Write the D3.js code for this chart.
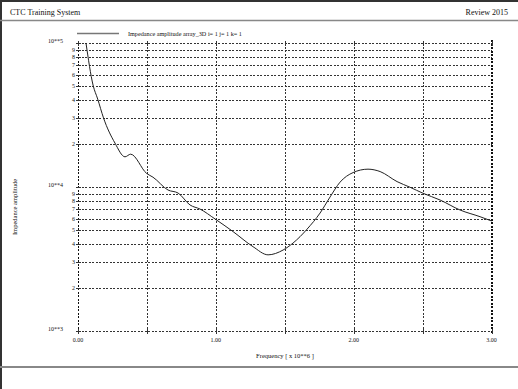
<!DOCTYPE html>
<html>
<head>
<meta charset="utf-8">
<script src="https://cdn.jsdelivr.net/npm/d3@7"></script>
<style>
  html, body { margin: 0; padding: 0; background: #fff; }
  svg { display: block; font-family: "Liberation Serif", "DejaVu Serif", serif; }
</style>
</head>
<body>
<svg id="chart"></svg>
<script>
// ── Data ────────────────────────────────────────────────────────────────────
const freq = [0.058, 0.109, 0.143, 0.185, 0.268, 0.341, 0.382, 0.499, 0.544,
              0.653, 0.726, 0.813, 0.885, 0.994, 1.125, 1.270, 1.379, 1.488, 1.560,
              1.611, 1.662, 1.756, 1.829, 1.901, 1.996, 2.104, 2.192, 2.315, 2.409,
              2.504, 2.627, 2.772, 2.917, 3.000];
const amp  = [100000, 51100, 40800, 30200, 20200, 16200, 16900, 12400, 11700,
              9530, 9080, 7500, 7030, 6000, 4900, 3850, 3380, 3650, 4080,
              4520, 5100, 6590, 8530, 10800, 12600, 13300, 12800, 10900, 9960,
              9040, 8120, 6920, 6220, 5810];

const xTickValues = [0, 1, 2, 3];
const xGridValues = [0.5, 1, 1.5, 2, 2.5];
const decades     = [1e3, 1e4, 1e5];
const decadeLabels = ['10**3', '10**4', '10**5'];
const minorDigits = [2, 3, 4, 5, 6, 7, 8, 9];

const headerLeft  = 'CTC Training System';
const headerRight = 'Review 2015';
const legendLabel = 'Impedance amplitude array_3D i= 1 j= 1 k= 1';
const xTitle = 'Frequency [ x 10**6 ]';
const yTitle = 'Impedance amplitude';

// ── Layout ──────────────────────────────────────────────────────────────────
const W = 518, H = 389;
const svg = d3.select('#chart').attr('width', W).attr('height', H);

const x = d3.scaleLinear().domain([0, 3]).range([78, 491.5]);
const y = d3.scaleLog().domain([1e3, 1e5]).range([331, 43]);

// ── Frame / header ──────────────────────────────────────────────────────────
svg.append('rect').attr('x', 0).attr('y', 0).attr('width', W).attr('height', H).attr('fill', '#fff');
svg.append('line').attr('x1', 0).attr('x2', W).attr('y1', 1).attr('y2', 1)
  .attr('stroke', '#333').attr('stroke-width', 2);
svg.append('line').attr('x1', 1).attr('x2', 1).attr('y1', 0).attr('y2', H)
  .attr('stroke', '#333').attr('stroke-width', 2);
svg.append('line').attr('x1', 0).attr('x2', W).attr('y1', 20.5).attr('y2', 20.5)
  .attr('stroke', '#888').attr('stroke-width', 1.5);
svg.append('line').attr('x1', 0).attr('x2', W).attr('y1', 367).attr('y2', 367)
  .attr('stroke', '#888').attr('stroke-width', 2);

svg.append('text').attr('x', 10).attr('y', 14.5).attr('font-size', 8).attr('fill', '#111')
  .text(headerLeft);
svg.append('text').attr('x', 508).attr('y', 14.5).attr('font-size', 8).attr('fill', '#111')
  .attr('text-anchor', 'end').text(headerRight);

// ── Legend ──────────────────────────────────────────────────────────────────
svg.append('line').attr('x1', 77).attr('x2', 119).attr('y1', 33.5).attr('y2', 33.5)
  .attr('stroke', '#777').attr('stroke-width', 1.5);
svg.append('text').attr('x', 128).attr('y', 35.5).attr('font-size', 6.2).attr('fill', '#111')
  .text(legendLabel);

// ── Grid ────────────────────────────────────────────────────────────────────
const grid = svg.append('g').attr('shape-rendering', 'crispEdges');

const hValues = [];
[1e3, 1e4].forEach(d => minorDigits.forEach(m => hValues.push(d * m)));
decades.forEach(d => hValues.push(d));

grid.selectAll('line.h').data(hValues).join('line')
  .attr('class', 'h')
  .attr('x1', x(0)).attr('x2', x(3))
  .attr('y1', d => Math.round(y(d)) + 0.5).attr('y2', d => Math.round(y(d)) + 0.5)
  .attr('stroke', '#333').attr('stroke-width', 1).attr('stroke-dasharray', '2,1.5');

grid.selectAll('line.v').data(xGridValues).join('line')
  .attr('class', 'v')
  .attr('x1', d => Math.round(x(d)) + 0.5).attr('x2', d => Math.round(x(d)) + 0.5)
  .attr('y1', y(1e5)).attr('y2', y(1e3))
  .attr('stroke', '#333').attr('stroke-width', 1).attr('stroke-dasharray', '2,1.5');

// left axis (dotted) and right border (heavier dotted)
grid.append('line')
  .attr('x1', Math.round(x(0)) + 0.5).attr('x2', Math.round(x(0)) + 0.5)
  .attr('y1', y(1e5)).attr('y2', y(1e3))
  .attr('stroke', '#111').attr('stroke-width', 1.5).attr('stroke-dasharray', '2,1.5');
grid.append('line')
  .attr('x1', Math.round(x(3))).attr('x2', Math.round(x(3)))
  .attr('y1', y(1e5) - 3).attr('y2', y(1e3) + 3)
  .attr('stroke', '#111').attr('stroke-width', 2).attr('stroke-dasharray', '2,1.5');

// small tick marks on the left axis and at top / bottom of vertical lines
grid.selectAll('line.yt').data(hValues).join('line')
  .attr('class', 'yt')
  .attr('x1', x(0) - 2).attr('x2', x(0) + 3)
  .attr('y1', d => Math.round(y(d)) + 0.5).attr('y2', d => Math.round(y(d)) + 0.5)
  .attr('stroke', '#333');
const xTickAll = [0].concat(xGridValues, [3]);
[1e5, 1e3].forEach(v => {
  grid.selectAll(null).data(xTickAll).join('line')
    .attr('x1', d => Math.round(x(d)) + 0.5).attr('x2', d => Math.round(x(d)) + 0.5)
    .attr('y1', y(v) - 2).attr('y2', y(v) + 3)
    .attr('stroke', '#333');
});

// ── Axis labels ─────────────────────────────────────────────────────────────
svg.selectAll('text.xt').data(xTickValues).join('text')
  .attr('class', 'xt')
  .attr('x', d => x(d)).attr('y', 342)
  .attr('text-anchor', 'middle').attr('font-size', 6).attr('fill', '#111')
  .text(d => d3.format('.2f')(d));

svg.selectAll('text.dl').data(decades).join('text')
  .attr('class', 'dl')
  .attr('x', 48).attr('y', d => y(d))
  .attr('font-size', 6).attr('fill', '#111')
  .text((d, i) => decadeLabels[i]);

const minorVals = [];
[1e3, 1e4].forEach(d => minorDigits.forEach(m => minorVals.push({ v: d * m, m })));
svg.selectAll('text.ml').data(minorVals).join('text')
  .attr('class', 'ml')
  .attr('x', 75).attr('y', d => y(d.v) + 2)
  .attr('text-anchor', 'end').attr('font-size', 6).attr('fill', '#111')
  .text(d => d.m);

svg.append('text')
  .attr('x', 285).attr('y', 358)
  .attr('text-anchor', 'middle').attr('font-size', 6.5).attr('fill', '#111')
  .text(xTitle);

svg.append('text')
  .attr('transform', 'translate(17,207) rotate(-90)')
  .attr('text-anchor', 'middle').attr('font-size', 6.5).attr('fill', '#111')
  .text(yTitle);

// ── Curve ───────────────────────────────────────────────────────────────────
const pts = freq.map((f, i) => [f, amp[i]]);
const line = d3.line()
  .x(d => x(d[0]))
  .y(d => y(d[1]))
  .curve(d3.curveMonotoneX);

svg.append('path')
  .datum(pts)
  .attr('d', line)
  .attr('fill', 'none')
  .attr('stroke', '#222')
  .attr('stroke-width', 1);
</script>
</body>
</html>
